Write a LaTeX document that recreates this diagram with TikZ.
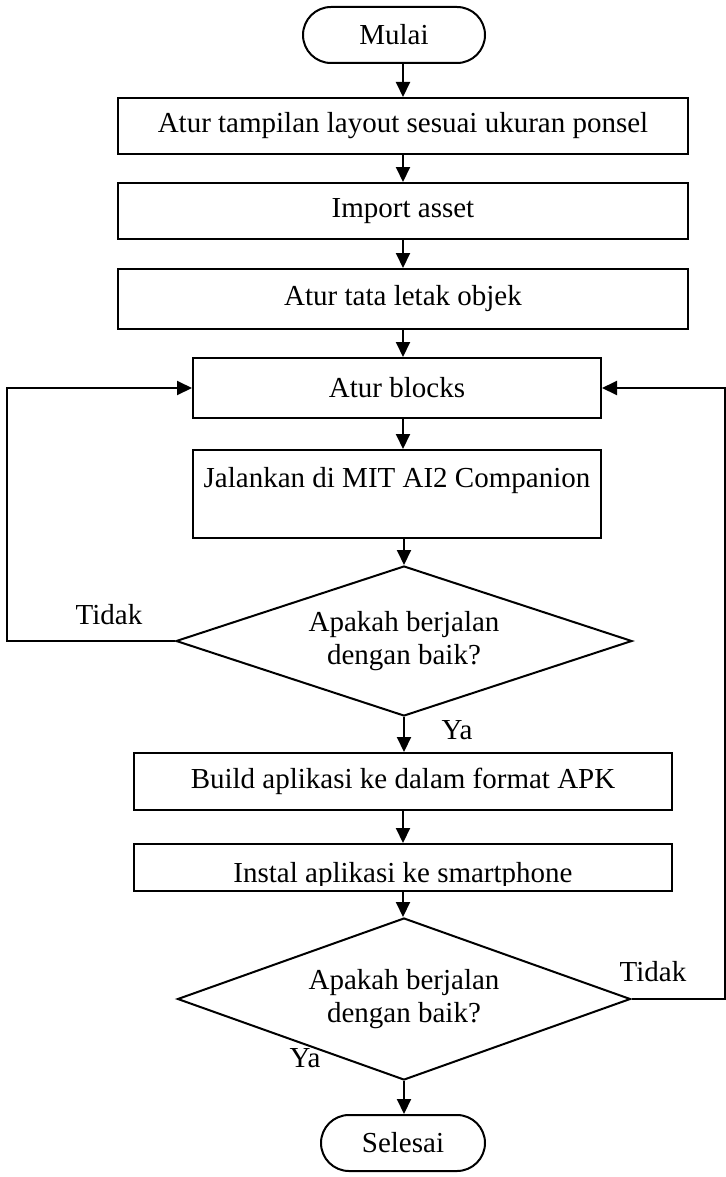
\documentclass[tikz,border=0pt]{standalone}
\usepackage{fontspec}
\setmainfont{Liberation Serif}
\usepackage{tikz}
\usetikzlibrary{shapes.geometric}
\usetikzlibrary{arrows.meta}
\usetikzlibrary{positioning}

\tikzset{
    flowbox/.style  = {draw, rectangle, line width = 1pt, inner sep = 0pt, font = \fontsize{14.5}{17}\selectfont},
    terminal/.style = {flowbox, rounded corners = 14pt},
    decision/.style = {draw, diamond, aspect = 3, line width = 1pt, inner sep = 0pt, align = center, font = \fontsize{14.5}{16.5}\selectfont},
    flowline/.style = {line width = 1pt, -{Triangle[length = 7.5pt, width = 7pt]}},
    answer/.style   = {font = \fontsize{14.5}{17}\selectfont}
}

\begin{document}
\begin{tikzpicture}[x = 0.5pt, y = -0.5pt]
                \useasboundingbox (0,0) rectangle (726,1177);

                % Draw the steps:
                \node [terminal, minimum width = 91pt, minimum height = 28pt] (Mulai) at (394,35) {Mulai};
                \node [flowbox, minimum width = 285pt, minimum height = 28pt] (Layout) at (403,126) {Atur tampilan layout sesuai ukuran ponsel};
                \node [flowbox, minimum width = 285pt, minimum height = 28pt] (Asset) at (403,211) {Import asset};
                \node [flowbox, minimum width = 285pt, minimum height = 30pt] (Objek) at (403,299) {Atur tata letak objek};
                \node [flowbox, minimum width = 204pt, minimum height = 30pt] (Blocks) at (397,388) {Atur blocks};
                \node [flowbox, minimum width = 204pt, minimum height = 44pt] (Jalankan) at (397,494) {};
                \node [answer] (JalankanText) at (397,481) {Jalankan di MIT AI2 Companion};
                \node [decision, minimum width = 228pt, minimum height = 75pt] (Cek) at (404,641) {Apakah berjalan\\dengan baik?};
                \node [flowbox, minimum width = 269pt, minimum height = 28.5pt] (Build) at (403,781.5) {Build aplikasi ke dalam format APK};
                \node [flowbox, minimum width = 269pt, minimum height = 23.5pt] (Instal) at (403,867.5) {};
                \begin{scope}
                    \clip (134,843) rectangle (672,885);
                    \node [answer, anchor = base] (InstalText) at (403,882) {Instal aplikasi ke smartphone};
                \end{scope}
                \node [decision, minimum width = 226.5pt, minimum height = 81pt] (CekLagi) at (404,999) {Apakah berjalan\\dengan baik?};
                \node [terminal, minimum width = 82pt, minimum height = 28pt] (Selesai) at (403,1143) {Selesai};

                % Draw the arrows down the chart:
                \draw [flowline] (Mulai.south -| Layout.north) -- (Layout.north);
                \draw [flowline] (Layout) -- (Asset);
                \draw [flowline] (Asset) -- (Objek);
                \draw [flowline] (Objek.south) -- (Objek.south |- Blocks.north);
                \draw [flowline] (Blocks.south -| Objek.south) -- (Jalankan.north -| Objek.south);
                \draw [flowline] (Cek.north |- Jalankan.south) -- (Cek.north);
                \draw [flowline] (Cek.south) -- (Cek.south |- Build.north);
                \draw [flowline] (Build) -- (Instal);
                \draw [flowline] (Instal.south) -- (Instal.south |- CekLagi.north);
                \draw [flowline] (CekLagi.south) -- (CekLagi.south |- Selesai.north);

                % Draw the loops back to the blocks:
                \coordinate (LoopKiri) at (7,641);
                \coordinate (LoopKanan) at (725,999);
                \draw [flowline] (Cek.west) -- (LoopKiri) |- (Blocks.west);
                \draw [flowline] (CekLagi.east) -- (LoopKanan) |- (Blocks.east);

                \node [answer] (Tidak) at (109,615) {Tidak};
                \node [answer] (Ya) at (457,730) {Ya};
                \node [answer] (TidakLagi) at (653,972) {Tidak};
                \node [answer] (YaLagi) at (305,1058) {Ya};
            \end{tikzpicture}
\end{document}
